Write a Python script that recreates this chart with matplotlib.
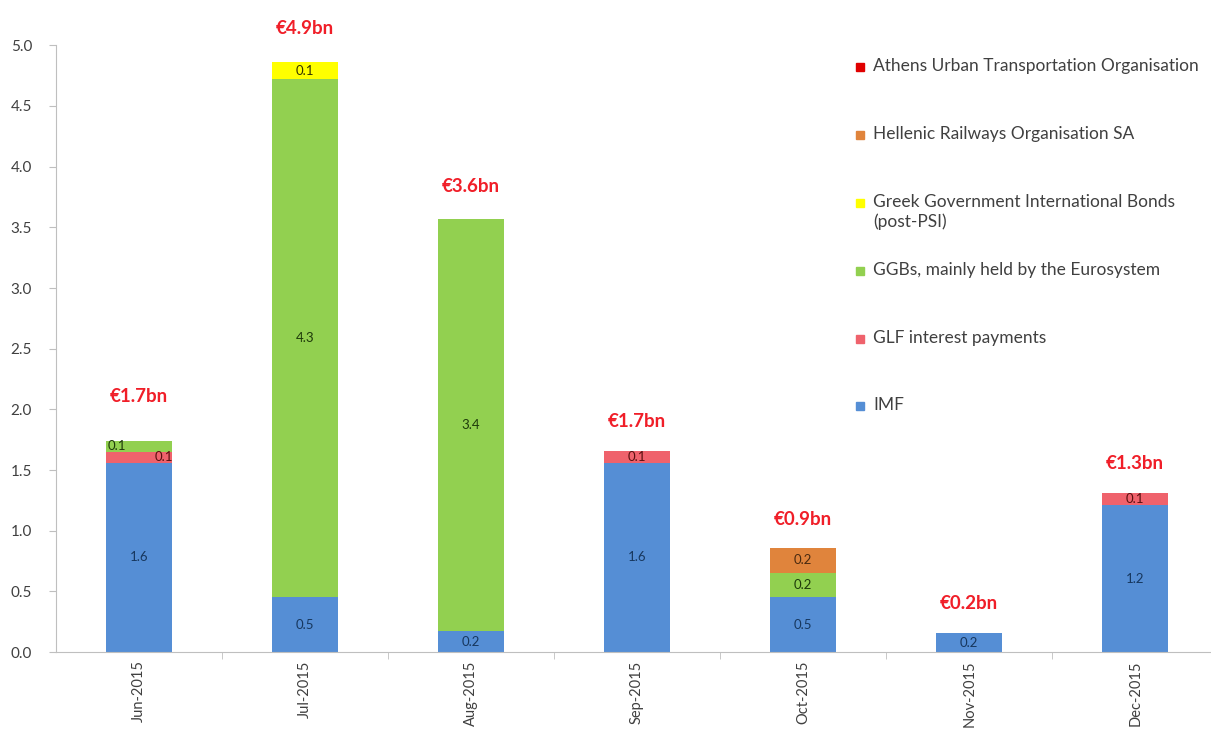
import matplotlib.pyplot as plt
from matplotlib.patches import Rectangle
import numpy as np

plt.rcParams['font.family'] = ['Lato', 'DejaVu Sans']

months = ["Jun-2015", "Jul-2015", "Aug-2015", "Sep-2015", "Oct-2015", "Nov-2015", "Dec-2015"]

# EUR bn, stacked bottom -> top
imf = [1.56, 0.45, 0.17, 1.56, 0.45, 0.157, 1.21]
glf = [0.09, 0.0, 0.0, 0.10, 0.0, 0.0, 0.10]
ggb_euro = [0.09, 4.27, 3.40, 0.0, 0.205, 0.0, 0.0]
ggb_intl = [0.0, 0.14, 0.0, 0.0, 0.0, 0.0, 0.0]
railways = [0.0, 0.0, 0.0, 0.0, 0.20, 0.0, 0.0]
athens = [0.0, 0.0, 0.0, 0.0, 0.0, 0.0, 0.0]

series = [imf, glf, ggb_euro, ggb_intl, railways, athens]
names = ["IMF", "GLF interest payments", "GGBs, mainly held by the Eurosystem",
         "Greek Government International Bonds\n(post-PSI)",
         "Hellenic Railways Organisation SA", "Athens Urban Transportation Organisation"]
colors = ["#558ED5", "#EF626C", "#92D050", "#FFFF00", "#E0843C", "#E00000"]
label_colors = ["#17375E", "#5A1010", "#1E3A0A", "#333300", "#4A2A10", "#333333"]

# small horizontal nudge for crowded labels (Jun GLF / GGBs)
nudge = {(1, 0): 0.15, (2, 0): -0.13}
# how far above the bar top the total label sits
total_gap = [0.37, 0.28, 0.27, 0.24, 0.24, 0.24, 0.24]

fig = plt.figure(figsize=(12.11, 7.31), dpi=100)
ax = fig.add_axes([0.046, 0.108, 0.96, 0.830])

x = np.arange(len(months))
bottom = np.zeros(len(months))
for k, (vals, col) in enumerate(zip(series, colors)):
    vals = np.array(vals)
    ax.bar(x, vals, 0.4, bottom=bottom, color=col, edgecolor='none')
    for i, v in enumerate(vals):
        if v > 0:
            ax.text(x[i] + nudge.get((k, i), 0), bottom[i] + v / 2, f"{v:.1f}",
                    ha='center', va='center', fontsize=9.5, color=label_colors[k])
    bottom += vals

for i, tot in enumerate(bottom):
    ax.text(x[i], tot + total_gap[i], f"€{tot:.1f}bn", ha='center', va='center',
            fontsize=13.5, fontweight='bold', color='#F01E28')

ax.set_xlim(-0.5, len(months) - 0.5)
ax.set_ylim(0, 5.0)
ax.set_yticks(np.arange(0, 5.01, 0.5))
ax.set_yticklabels([f"{t:.1f}" for t in np.arange(0, 5.01, 0.5)])
ax.set_xticks(x)
ax.set_xticklabels(months, rotation=90, va='top')
ax.set_xticks(np.arange(0.5, len(months) - 0.5, 1), minor=True)
ax.tick_params(axis='x', which='major', length=0, pad=6, labelsize=10.5, labelcolor='#404040')
ax.tick_params(axis='x', which='minor', length=5, color='#BFBFBF')
ax.tick_params(axis='y', length=5, color='#BFBFBF', pad=12, labelsize=11, labelcolor='#404040')

for s in ['top', 'right']:
    ax.spines[s].set_visible(False)
for s in ['left', 'bottom']:
    ax.spines[s].set_color('#BFBFBF')

# legend drawn by hand, top to bottom
W, H = 1211, 731
leg_y = [67, 135, 203, 271, 339, 406]
for yy, name, col in zip(leg_y, names[::-1], colors[::-1]):
    fig.patches.append(Rectangle((856 / W, 1 - (yy + 4) / H), 8 / W, 8 / H,
                                 transform=fig.transFigure, color=col, figure=fig))
    fig.text(873 / W, 1 - (yy - 9) / H, name, ha='left', va='top', fontsize=12.5,
             color='#404040', linespacing=1.25)

fig.savefig("out.png", dpi=100)
